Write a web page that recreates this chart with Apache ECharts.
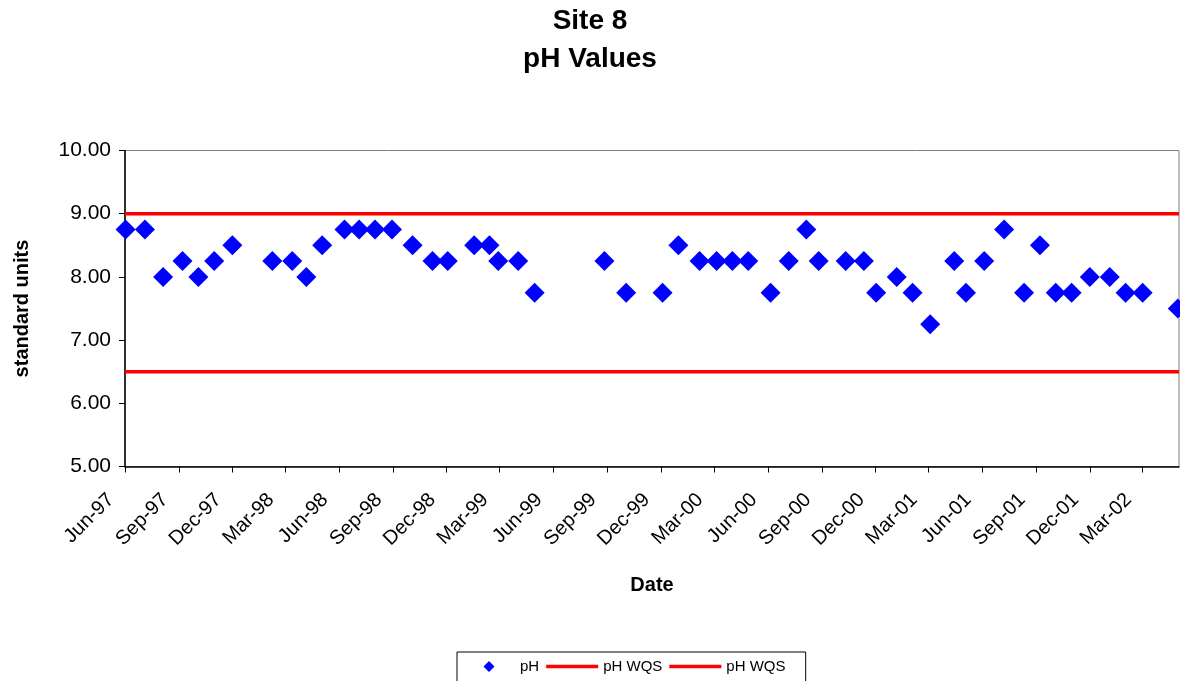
<!DOCTYPE html>
<html>
<head>
<meta charset="utf-8">
<script src="https://cdn.jsdelivr.net/npm/echarts@6/dist/echarts.min.js"></script>
<style>
html,body{margin:0;padding:0;background:#fff;}
#chart{width:1180px;height:681px;}
</style>
</head>
<body>
<div id="chart"></div>
<script>
// ---- data ----
const phDates = [
  '1997-06-02','1997-07-05','1997-08-05','1997-09-07','1997-10-04','1997-10-31','1997-12-01',
  '1998-02-07','1998-03-13','1998-04-06','1998-05-03','1998-06-10','1998-07-05','1998-08-01',
  '1998-08-30','1998-10-04','1998-11-07','1998-12-03','1999-01-17','1999-02-12','1999-02-27',
  '1999-04-02','1999-04-30','1999-08-27','1999-10-03','1999-12-04','1999-12-31','2000-02-05',
  '2000-03-05','2000-04-01','2000-04-28','2000-06-05','2000-07-06','2000-08-05','2000-08-26',
  '2000-10-11','2000-11-11','2000-12-02','2001-01-06','2001-02-02','2001-03-04','2001-04-14',
  '2001-05-04','2001-06-04','2001-07-08','2001-08-11','2001-09-07','2001-10-04','2001-10-31',
  '2001-12-01','2002-01-04','2002-01-31','2002-03-01','2002-04-30'
];
const phValues = [
  8.75, 8.75, 8.00, 8.25, 8.00, 8.25, 8.50,
  8.25, 8.25, 8.00, 8.50, 8.75, 8.75, 8.75,
  8.75, 8.50, 8.25, 8.25, 8.50, 8.50, 8.25,
  8.25, 7.75, 8.25, 7.75, 7.75, 8.50, 8.25,
  8.25, 8.25, 8.25, 7.75, 8.25, 8.75, 8.25,
  8.25, 8.25, 7.75, 8.00, 7.75, 7.25, 8.25,
  7.75, 8.25, 8.75, 7.75, 8.50, 7.75, 7.75,
  8.00, 8.00, 7.75, 7.75, 7.50
];
const wqsUpper = 9.0;
const wqsLower = 6.5;
const xMinDate = '1997-06-01';
const xMaxDate = '2002-05-02';
const xTickLabels = ['Jun-97','Sep-97','Dec-97','Mar-98','Jun-98','Sep-98','Dec-98','Mar-99','Jun-99',
  'Sep-99','Dec-99','Mar-00','Jun-00','Sep-00','Dec-00','Mar-01','Jun-01','Sep-01','Dec-01','Mar-02'];
const yMin = 5, yMax = 10, yInterval = 1;

// ---- helpers ----
const MONTHS = ['Jan','Feb','Mar','Apr','May','Jun','Jul','Aug','Sep','Oct','Nov','Dec'];
function parseDate(s) { const p = s.split('-').map(Number); return Date.UTC(p[0], p[1]-1, p[2]); }
function parseTickLabel(s) {
  const [m, y] = s.split('-');
  const yy = Number(y);
  return Date.UTC(yy < 50 ? 2000 + yy : 1900 + yy, MONTHS.indexOf(m), 1);
}
const xMin = parseDate(xMinDate), xMax = parseDate(xMaxDate);
const tickValues = xTickLabels.map(parseTickLabel);
function tickLabelFor(v) {
  let best = 0, bd = Infinity;
  tickValues.forEach((t, i) => { const d = Math.abs(t - v); if (d < bd) { bd = d; best = i; } });
  return bd < 86400000 ? xTickLabels[best] : '';
}

const FONT = '"Liberation Sans", Arial, sans-serif';
// legend icons: 52x11 boxes so they keep their shape inside the legend item box
const DIAMOND_ICON = 'path://M0,5.5L0.01,5.5M52,5.5L51.99,5.5M26,0L31.5,5.5L26,11L20.5,5.5Z';
const LINE_ICON = 'path://M0,0L0.01,0M0,11L0.01,11M0,3.75H52V7.25H0Z';
const chart = echarts.init(document.getElementById('chart'), null, {renderer: 'canvas'});
chart.setOption({
  backgroundColor: '#ffffff',
  animation: false,
  title: {
    text: 'Site 8\npH Values',
    left: 'center',
    top: -3,
    textStyle: {fontFamily: FONT, fontSize: 28, fontWeight: 'bold', color: '#000', lineHeight: 38}
  },
  legend: {
    top: 652,
    left: 457,
    orient: 'horizontal',
    padding: [7, 16, 8, 6],
    itemGap: 7,
    itemWidth: 52,
    itemHeight: 11,
    symbolKeepAspect: true,
    borderColor: '#000',
    borderWidth: 1,
    textStyle: {fontFamily: FONT, fontSize: 15, color: '#000'},
    data: [
      {name: 'pH', icon: DIAMOND_ICON},
      {name: 'pH WQS', icon: LINE_ICON},
      {name: 'pH WQS ', icon: LINE_ICON}
    ]
  },
  grid: {
    left: 125, right: 1, top: 150.5, bottom: 214.5,
    show: true, borderColor: '#808080', borderWidth: 1, backgroundColor: '#fff'
  },
  xAxis: {
    type: 'value',
    min: xMin,
    max: xMax,
    name: 'Date',
    nameLocation: 'middle',
    nameGap: 109,
    nameTextStyle: {fontFamily: FONT, fontSize: 20, fontWeight: 'bold', color: '#000'},
    axisLine: {show: true, lineStyle: {color: '#000', width: 1.5}},
    axisTick: {show: true, inside: false, length: 6, lineStyle: {color: '#000'}, customValues: tickValues},
    axisLabel: {
      customValues: tickValues,
      rotate: 45,
      margin: 16,
      padding: [0, 20, 0, 0],
      fontFamily: FONT, fontSize: 20, color: '#000',
      formatter: v => tickLabelFor(v)
    },
    splitLine: {show: false}
  },
  yAxis: {
    type: 'value',
    min: yMin, max: yMax, interval: yInterval,
    name: 'standard units',
    nameLocation: 'middle',
    nameGap: 93,
    nameTextStyle: {fontFamily: FONT, fontSize: 20, fontWeight: 'bold', color: '#000'},
    axisLine: {show: true, lineStyle: {color: '#000', width: 1.5}},
    axisTick: {show: true, inside: false, length: 6, lineStyle: {color: '#000'}},
    axisLabel: {margin: 14, fontFamily: FONT, fontSize: 21, color: '#000', formatter: v => v.toFixed(2)},
    splitLine: {show: false}
  },
  series: [
    {
      name: 'pH',
      type: 'scatter',
      symbol: 'diamond',
      symbolSize: 20,
      clip: false,
      itemStyle: {color: '#0000FF', opacity: 1},
      data: phDates.map((d, i) => [parseDate(d), phValues[i]]),
      z: 3
    },
    {
      name: 'pH WQS',
      type: 'line',
      symbol: 'none',
      lineStyle: {color: '#FF0000', width: 3.5},
      itemStyle: {color: '#FF0000'},
      data: [[xMin, wqsUpper], [xMax, wqsUpper]],
      z: 2
    },
    {
      name: 'pH WQS ',
      type: 'line',
      symbol: 'none',
      lineStyle: {color: '#FF0000', width: 3.5},
      itemStyle: {color: '#FF0000'},
      data: [[xMin, wqsLower], [xMax, wqsLower]],
      z: 2
    }
  ]
});
</script>
</body>
</html>
